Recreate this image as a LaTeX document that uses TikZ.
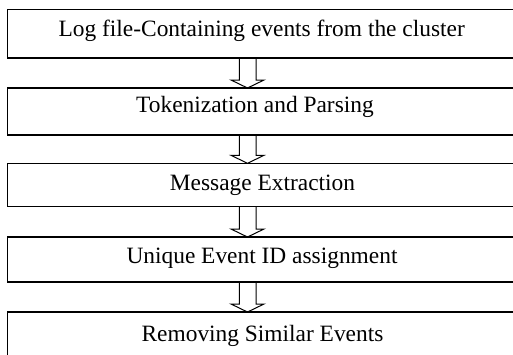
\documentclass[tikz,border=0pt]{standalone}
\usepackage{fontspec}
\setmainfont{Liberation Serif}
\usetikzlibrary{calc}
\tikzset{
  stage/.style={draw, line width=1.1pt, rectangle, minimum width=520pt, minimum height=#1, anchor=north west, inner sep=0pt, outer sep=0pt},
  lbl/.style={anchor=base, font=\fontsize{23.4}{26}\selectfont, inner sep=0pt},
  arrowline/.style={draw, line width=1pt, line join=miter}
}
\newcommand\blockarrow[2]{%
  \draw[arrowline] ($(#1.south west)+(231.8,0)$) -- ($(#2.north west)+(231.8,-8)$)
    -- ($(#2.north west)+(223.5,-8)$) -- ($(#2.north west)+(240,0)$)
    -- ($(#2.north west)+(256.5,-8)$) -- ($(#2.north west)+(248.5,-8)$)
    -- ($(#1.south west)+(248.5,0)$);}
\begin{document}
\begin{tikzpicture}[x=1pt,y=-1pt]
\useasboundingbox (0,0) rectangle (513,354);
\clip (0,0) rectangle (513,354);
\node[stage=48.5pt] (b1) at (7.5,9.5) {};
\node[stage=47pt] (b2) at (7.5,88) {};
\node[stage=43.5pt] (b3) at (7.5,163.3) {};
\node[stage=45pt] (b4) at (7.5,237) {};
\node[stage=50pt] (b5) at (7.5,312) {};
\node[lbl] (t1) at (261.7,36.7) {Log file-Containing events from the cluster};
\node[lbl] (t2) at (255,112.3) {Tokenization and Parsing};
\node[lbl] (t3) at (262.5,190) {Message Extraction};
\node[lbl] (t4) at (262,263.3) {Unique Event ID assignment};
\node[lbl] (t5) at (262.5,341.7) {Removing Similar Events};
\blockarrow{b1}{b2}
\blockarrow{b2}{b3}
\blockarrow{b3}{b4}
\blockarrow{b4}{b5}
\end{tikzpicture}
\end{document}
